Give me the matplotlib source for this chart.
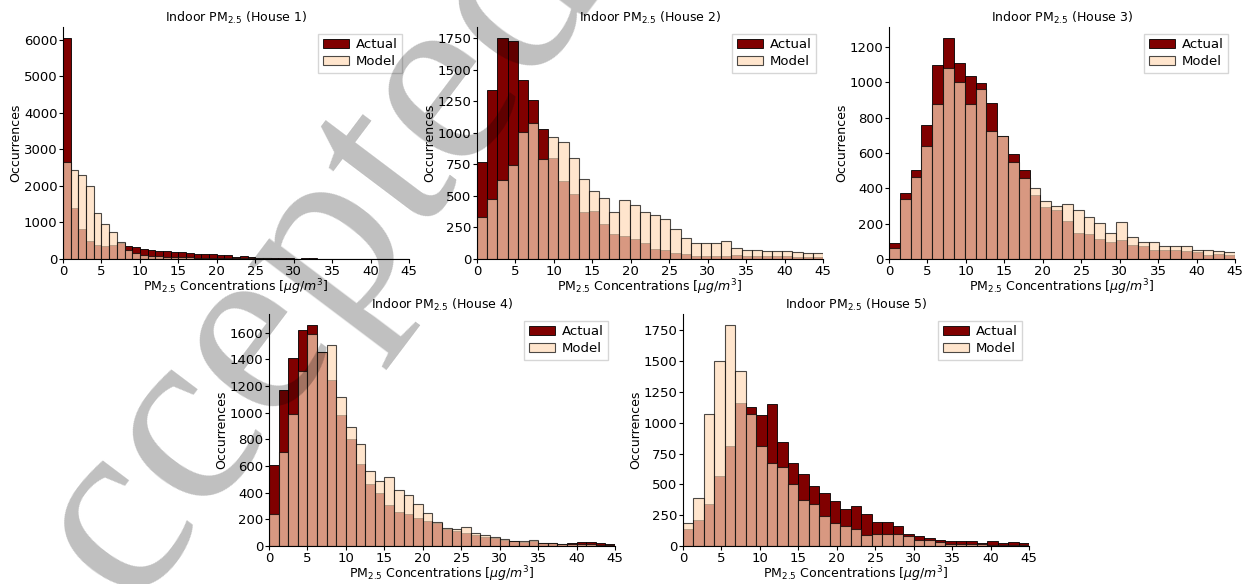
import numpy as np
import matplotlib.pyplot as plt
from matplotlib.ticker import MultipleLocator

houses = ["House 1", "House 2", "House 3", "House 4", "House 5"]
n_bins = [45, 34, 32, 36, 33]
y_steps = [1000, 250, 200, 200, 250]
x_max = 45

actual_h1 = [6050, 1390, 817, 500, 373, 350, 390, 436, 345, 318,
             273, 236, 227, 215, 200, 190, 160, 150, 150, 140,
             120, 100, 50, 70, 55, 40, 30, 20, 15, 15,
             12, 25, 15, 10, 8, 6, 5, 4, 4, 3,
             3, 2, 2, 2, 2]
model_h1 = [2650, 2450, 2296, 2000, 1260, 960, 736, 464, 236, 164,
            118, 91, 73, 60, 55, 50, 45, 40, 35, 30,
            28, 25, 22, 20, 18, 15, 15, 12, 12, 10,
            10, 8, 8, 6, 6, 5, 5, 4, 4, 3,
            3, 2, 2, 2, 2]

actual_h2 = [770, 1340, 1750, 1729, 1421, 1256, 1033, 800, 615, 515,
             375, 380, 280, 195, 180, 160, 125, 80, 70, 45,
             40, 25, 25, 25, 25, 30, 25, 20, 20, 20,
             20, 15, 15, 15]
model_h2 = [331, 476, 625, 746, 1006, 1077, 793, 965, 925, 800,
            630, 540, 480, 375, 470, 430, 375, 345, 320, 235,
            170, 130, 130, 125, 140, 90, 75, 75, 60, 60,
            60, 55, 50, 45]

actual_h3 = [90, 375, 504, 758, 1101, 1251, 1112, 1036, 998, 886,
             698, 596, 506, 361, 296, 277, 215, 150, 140, 115,
             95, 110, 77, 71, 49, 49, 52, 43, 37, 24,
             30, 24]
model_h3 = [60, 339, 464, 640, 876, 1082, 1000, 880, 964, 723,
            698, 549, 457, 403, 330, 301, 309, 280, 240, 205,
            150, 212, 124, 96, 94, 71, 71, 71, 52, 52,
            45, 37]

actual_h4 = [608, 1169, 1412, 1620, 1658, 1459, 1248, 980, 800, 615,
             465, 395, 310, 255, 240, 210, 185, 175, 130, 115,
             95, 80, 68, 60, 45, 35, 30, 35, 22, 20,
             18, 25, 27, 27, 22, 17]
model_h4 = [243, 702, 988, 1315, 1593, 1459, 1506, 1119, 895, 765,
            560, 490, 520, 420, 380, 315, 250, 180, 135, 130,
            145, 100, 80, 70, 50, 40, 35, 45, 25, 20,
            15, 12, 12, 12, 10, 8]

actual_h5 = [137, 215, 339, 565, 815, 1159, 1132, 1067, 1151, 847,
             677, 581, 487, 427, 366, 304, 323, 263, 196, 196,
             161, 99, 83, 67, 48, 43, 43, 43, 22, 38,
             22, 32, 27]
model_h5 = [188, 390, 1075, 1503, 1793, 1417, 1070, 809, 677, 645,
            505, 376, 339, 247, 183, 164, 134, 89, 94, 99,
            99, 83, 48, 48, 30, 19, 13, 13, 13, 10,
            10, 10, 8]

actual = [actual_h1, actual_h2, actual_h3, actual_h4, actual_h5]
model = [model_h1, model_h2, model_h3, model_h4, model_h5]

W, H = 1249, 584
fig = plt.figure(figsize=(W / 100, H / 100), dpi=100)

# plot area boxes in pixels: left, top
boxes = [(63, 27), (477, 27), (889, 27), (269, 314), (683, 314)]
aw, ah = 346, 232

for i in range(5):
    left, top = boxes[i]
    ax = fig.add_axes([left / W, (H - top - ah) / H, aw / W, ah / H])
    edges = np.linspace(0, x_max, n_bins[i] + 1)
    mids = (edges[:-1] + edges[1:]) / 2
    ax.hist(mids, bins=edges, weights=actual[i], color='#800000',
            edgecolor='black', linewidth=0.6, label='Actual')
    ax.hist(mids, bins=edges, weights=model[i], color='#FFDAB9', alpha=0.7,
            edgecolor='black', linewidth=0.8, label='Model')
    ax.set_xlim(0, x_max)
    ax.set_xticks(np.arange(0, 46, 5))
    ax.yaxis.set_major_locator(MultipleLocator(y_steps[i]))
    ax.spines['top'].set_visible(False)
    ax.spines['right'].set_visible(False)
    ax.set_title("Indoor PM$_{2.5}$ (" + houses[i] + ")", fontsize=9, pad=4)
    ax.set_xlabel("PM$_{2.5}$ Concentrations [$\\mu g/m^3$]", fontsize=9, labelpad=0)
    ax.set_ylabel("Occurrences", fontsize=9, labelpad=1)
    ax.tick_params(labelsize=9.5, length=3, pad=1)
    ax.legend(loc='upper right', fontsize=9.5, handlelength=2.0,
              handletextpad=0.5, borderpad=0.35, labelspacing=0.3,
              fancybox=False)

# faint watermark lying over the panels
fig.text(265 / W, 1 - 335 / H, "Accepted", rotation=53, fontsize=185,
         family='Liberation Serif', color='black', alpha=0.25,
         ha='center', va='center')

fig.savefig("out.png", dpi=100)
